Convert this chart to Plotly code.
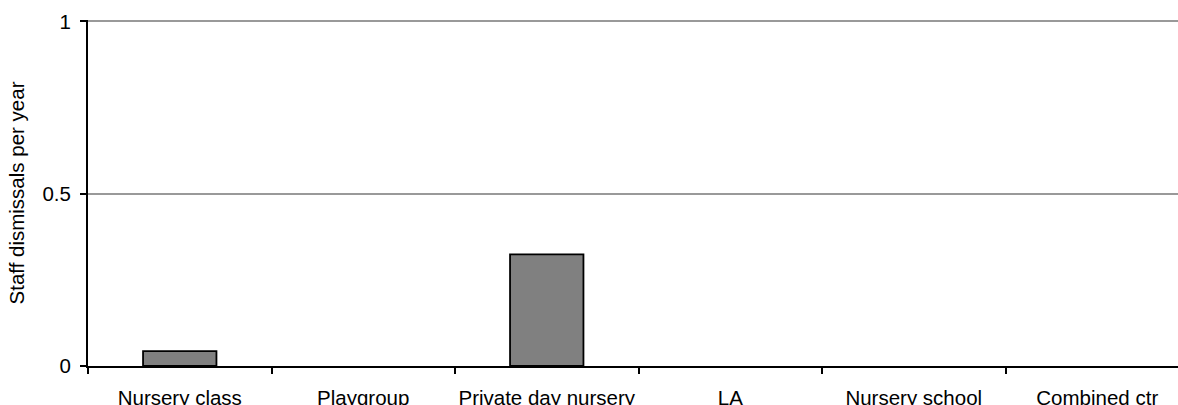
import plotly.graph_objects as go

categories = ["Nursery class", "Playgroup", "Private day nursery", "LA", "Nursery school", "Combined ctr"]
values = [0.043, 0, 0.324, 0, 0, 0]
y_ticks = [0, 0.5, 1]
y_tick_labels = ["0", "0.5", "1"]

fig = go.Figure()
fig.add_trace(go.Bar(
    x=categories, y=values,
    marker=dict(color="#808080",
                line=dict(color="black", width=[1.8 if v > 0 else 0 for v in values])),
    width=0.4,
))

font = "Liberation Sans, Arial, sans-serif"
fs = 20.5
fig.update_layout(
    width=1178, height=405,
    margin=dict(l=88, r=0, t=20, b=39),
    paper_bgcolor="white", plot_bgcolor="white",
    showlegend=False,
    font=dict(family=font, size=fs, color="black"),
)
fig.update_xaxes(
    type="category",
    range=[-0.5, 5.44],
    automargin=False,
    tickangle=0,
    showline=True, linecolor="black", linewidth=2,
    ticks="outside", tickson="boundaries", ticklen=6, tickwidth=2, tickcolor="black",
    showgrid=False,
    ticklabelstandoff=12,
    tickfont=dict(size=fs),
)
fig.update_yaxes(
    range=[0, 1.004],
    automargin=False,
    tickvals=y_ticks, ticktext=y_tick_labels,
    showline=True, linecolor="black", linewidth=2,
    ticks="outside", ticklen=6, tickwidth=2, tickcolor="black",
    showgrid=True, gridcolor="#999999", gridwidth=2,
    zeroline=False,
    ticklabelstandoff=5,
    tickfont=dict(size=fs),
    title=dict(text="Staff dismissals per year", font=dict(size=fs), standoff=12),
)
fig.write_html("out.html")
